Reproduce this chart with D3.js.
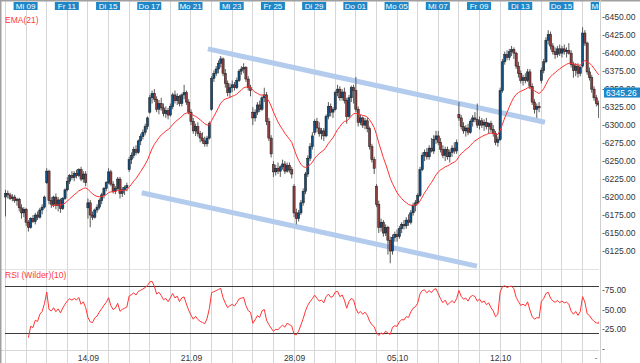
<!DOCTYPE html>
<html>
<head>
<meta charset="utf-8">
<script src="https://cdnjs.cloudflare.com/ajax/libs/d3/7.8.5/d3.min.js"></script>
<style>
body { margin: 0; background: #fff; }
svg { display: block; font-family: Arial, "Liberation Sans", sans-serif; }
</style>
</head>
<body>
<script>
//Width and height
var w = 640;
var h = 363;

// trading days shown on the x axis (9 hourly candles each)
var days = ["Di 08","Mi 09","Do 10","Fr 11","Mo 14","Di 15","Mi 16","Do 17","Fr 18","Mo 21",
            "Di 22","Mi 23","Do 24","Fr 25","Mo 28","Di 29","Mi 30","Do 01","Fr 02","Mo 05",
            "Di 06","Mi 07","Do 08","Fr 09","Mo 12","Di 13","Mi 14","Do 15","Fr 16","Mo 19"];
var weekDays = [4, 9, 14, 19, 24];
var weekLabels = ["14.09", "21.09", "28.09", "05.10", "12.10"];
var priceTicks = [6125, 6150, 6175, 6200, 6225, 6250, 6275, 6300, 6325, 6350, 6375, 6400, 6425, 6450];
var rsiTicks = [25, 50, 75];
var rsiBands = [20, 80];
var lastPrice = 6345.26;

// trend channel: [candle index, price]
var upperChannel = [[88.6, 6406], [235.8, 6304]];
var lowerChannel = [[59.7, 6206], [206.1, 6104]];

// [open, high, low, close]
var candles = [
  // Di 08
  [6200,6210,6173,6205],[6205,6209,6198,6203],[6203,6206,6196,6198],[6198,6204,6194,6200],[6200,6203,6192,6195],
  [6195,6199,6188,6197],[6197,6199,6180,6185],[6185,6190,6170,6178],[6178,6186,6172,6183],
  // Mi 09
  [6183,6185,6160,6165],[6165,6168,6152,6158],[6158,6172,6156,6170],[6170,6175,6164,6166],[6166,6178,6162,6175],
  [6175,6180,6168,6172],[6172,6185,6170,6182],[6182,6190,6176,6186],[6186,6202,6184,6200],
  // Do 10
  [6220,6240,6218,6236],[6236,6238,6190,6195],[6195,6200,6185,6190],[6190,6202,6186,6200],[6200,6205,6183,6188],
  [6188,6200,6180,6196],[6196,6198,6178,6184],[6184,6200,6182,6198],[6198,6212,6196,6210],
  // Fr 11
  [6210,6228,6208,6222],[6222,6232,6218,6230],[6230,6236,6224,6227],[6227,6236,6222,6233],[6233,6238,6226,6230],
  [6230,6240,6228,6238],[6238,6242,6222,6225],[6225,6236,6220,6232],[6232,6236,6215,6220],
  // Mo 14
  [6185,6198,6170,6192],[6192,6196,6158,6175],[6175,6180,6168,6172],[6172,6184,6170,6182],[6182,6190,6178,6186],
  [6186,6198,6183,6195],[6195,6206,6190,6203],[6203,6214,6198,6212],[6212,6222,6208,6220],
  // Di 15
  [6220,6240,6218,6235],[6235,6238,6215,6218],[6218,6222,6205,6208],[6208,6215,6204,6212],[6212,6228,6210,6225],
  [6225,6228,6198,6205],[6205,6214,6200,6210],[6210,6216,6203,6213],[6213,6220,6208,6216],
  // Mi 16
  [6238,6256,6235,6252],[6252,6262,6246,6258],[6258,6270,6254,6266],[6266,6272,6258,6262],[6262,6280,6260,6278],
  [6278,6288,6272,6284],[6284,6294,6280,6290],[6290,6302,6286,6298],[6298,6312,6294,6310],
  // Do 17
  [6318,6342,6316,6338],[6338,6348,6330,6344],[6344,6350,6332,6336],[6336,6340,6318,6322],[6322,6335,6315,6330],
  [6330,6338,6320,6324],[6324,6330,6312,6316],[6316,6326,6310,6320],[6320,6324,6308,6314],
  // Fr 18
  [6314,6330,6312,6326],[6326,6345,6322,6342],[6342,6348,6330,6334],[6334,6344,6328,6340],[6340,6342,6326,6330],
  [6330,6344,6326,6342],[6342,6356,6336,6345],[6345,6348,6328,6332],[6332,6336,6315,6318],
  // Mo 21
  [6318,6322,6300,6305],[6305,6310,6288,6292],[6292,6302,6285,6298],[6298,6304,6284,6288],[6288,6292,6276,6282],
  [6282,6290,6274,6278],[6278,6284,6270,6274],[6274,6285,6270,6282],[6282,6305,6280,6302],
  // Di 22
  [6322,6368,6320,6365],[6365,6376,6360,6372],[6372,6382,6368,6378],[6378,6390,6372,6386],[6386,6396,6380,6392],
  [6392,6394,6368,6372],[6372,6378,6352,6358],[6358,6362,6340,6345],[6345,6358,6338,6352],
  // Mi 23
  [6352,6362,6346,6356],[6356,6360,6348,6352],[6352,6366,6350,6362],[6362,6378,6360,6375],[6375,6382,6370,6378],
  [6378,6386,6372,6380],[6380,6382,6360,6364],[6364,6368,6348,6352],[6352,6356,6340,6348],
  // Do 24
  [6318,6325,6300,6310],[6310,6322,6305,6318],[6318,6332,6314,6328],[6328,6334,6318,6322],[6322,6340,6320,6338],
  [6338,6352,6332,6342],[6342,6346,6300,6305],[6305,6310,6278,6282],[6282,6286,6255,6260],
  // Fr 25
  [6245,6250,6228,6235],[6235,6245,6230,6240],[6240,6248,6232,6236],[6236,6244,6228,6242],[6242,6252,6238,6246],
  [6246,6250,6232,6236],[6236,6248,6234,6244],[6244,6248,6234,6238],[6238,6242,6226,6232],
  // Mo 28
  [6215,6218,6172,6178],[6178,6184,6162,6170],[6170,6182,6166,6178],[6178,6196,6175,6192],[6192,6212,6188,6208],
  [6208,6235,6204,6232],[6232,6258,6228,6254],[6254,6275,6250,6270],[6270,6290,6266,6285],
  // Di 29
  [6290,6308,6286,6305],[6305,6310,6290,6296],[6296,6304,6284,6288],[6288,6296,6280,6292],[6292,6296,6278,6285],
  [6285,6315,6283,6312],[6312,6332,6308,6326],[6326,6330,6312,6318],[6318,6325,6310,6322],
  // Mi 30
  [6322,6348,6320,6345],[6345,6356,6340,6350],[6350,6354,6334,6338],[6338,6350,6334,6346],[6346,6352,6330,6334],
  [6334,6338,6302,6312],[6312,6342,6310,6338],[6338,6355,6332,6352],[6352,6356,6330,6348],
  // Do 01
  [6348,6367,6318,6322],[6322,6326,6298,6304],[6304,6314,6300,6310],[6310,6312,6296,6300],[6300,6310,6294,6306],
  [6306,6310,6290,6295],[6295,6298,6266,6270],[6270,6274,6248,6252],[6252,6256,6232,6240],
  // Fr 02
  [6215,6218,6186,6190],[6190,6195,6150,6158],[6158,6170,6152,6165],[6165,6168,6145,6150],[6150,6162,6146,6158],
  [6158,6160,6120,6140],[6140,6145,6108,6125],[6125,6148,6120,6144],[6144,6152,6138,6148],
  // Mo 05
  [6148,6155,6138,6145],[6145,6160,6142,6156],[6156,6165,6150,6162],[6162,6168,6155,6160],[6160,6172,6156,6168],
  [6168,6176,6160,6165],[6165,6182,6162,6178],[6178,6192,6174,6188],[6188,6196,6180,6192],
  // Di 06
  [6192,6205,6190,6202],[6202,6242,6200,6238],[6238,6262,6236,6258],[6258,6266,6250,6262],[6262,6268,6252,6256],
  [6256,6272,6252,6268],[6268,6282,6262,6264],[6264,6286,6260,6280],[6280,6292,6274,6285],
  // Mi 07
  [6285,6292,6272,6276],[6276,6282,6262,6266],[6266,6272,6254,6258],[6258,6270,6250,6266],[6266,6270,6252,6256],
  [6256,6266,6248,6262],[6262,6272,6256,6268],[6268,6276,6260,6264],[6264,6280,6260,6276],
  // Do 08
  [6315,6332,6306,6310],[6310,6314,6294,6298],[6298,6304,6288,6292],[6292,6300,6284,6296],[6296,6302,6286,6290],
  [6290,6308,6288,6305],[6305,6314,6298,6310],[6310,6318,6304,6308],[6308,6330,6296,6300],
  // Fr 09
  [6300,6312,6294,6306],[6306,6310,6296,6300],[6300,6308,6292,6304],[6304,6310,6294,6298],[6298,6304,6288,6302],
  [6302,6306,6290,6294],[6294,6300,6284,6288],[6288,6292,6272,6276],[6276,6284,6270,6280],
  // Mo 12
  [6280,6352,6278,6348],[6348,6392,6345,6388],[6388,6402,6384,6398],[6398,6404,6390,6394],[6394,6406,6390,6402],
  [6402,6410,6396,6405],[6405,6408,6392,6400],[6400,6402,6378,6382],[6382,6388,6366,6372],
  // Di 13
  [6372,6376,6358,6362],[6362,6370,6355,6366],[6366,6372,6358,6362],[6362,6378,6360,6374],[6374,6378,6350,6354],
  [6354,6358,6328,6332],[6332,6336,6316,6322],[6322,6330,6310,6326],[6326,6332,6318,6324],
  // Mi 14
  [6362,6380,6358,6376],[6376,6392,6372,6388],[6388,6422,6386,6418],[6418,6432,6412,6426],[6426,6430,6405,6410],
  [6410,6414,6398,6402],[6402,6408,6392,6398],[6398,6410,6394,6406],[6406,6412,6396,6400],
  // Do 15
  [6400,6410,6394,6406],[6406,6412,6398,6402],[6402,6408,6394,6404],[6404,6414,6398,6400],[6400,6404,6380,6384],
  [6384,6388,6366,6376],[6376,6386,6368,6382],[6382,6386,6366,6372],[6372,6382,6368,6380],
  // Fr 16
  [6382,6436,6380,6428],[6428,6432,6410,6414],[6414,6416,6370,6374],[6374,6380,6362,6366],[6366,6370,6345,6350],
  [6350,6354,6334,6338],[6338,6342,6326,6330],[6330,6334,6310,6328],[6328,6350,6325,6345.26]
];

var perDay = 9;
var plotRight = 599;

var x = d3.scaleLinear().domain([0, 261]).range([5, 5 + 261 * 2.29]);
var y = d3.scaleLinear().domain([6100, 6460]).range([269, 10]);
var yr = d3.scaleLinear().domain([0, 100]).range([348.5, 270.5]);

// EMA(21) and Wilder RSI(10) from the closes
var closes = candles.map(function(d){ return d[3]; });
var ema = [];
var k = 2 / 22, sum = 0;
for (var i = 0; i < closes.length; i++) {
  if (i < 20) { sum += closes[i]; continue; }
  if (i === 20) { sum += closes[i]; ema.push([i, sum / 21]); continue; }
  ema.push([i, closes[i] * k + ema[ema.length - 1][1] * (1 - k)]);
}
var rsi = [], ag = 0, al = 0;
for (var i = 1; i < closes.length; i++) {
  var ch = closes[i] - closes[i - 1];
  var g = Math.max(ch, 0), l = Math.max(-ch, 0);
  if (i <= 10) {
    ag += g / 10; al += l / 10;
    if (i < 10) continue;
  } else {
    ag = (ag * 9 + g) / 10; al = (al * 9 + l) / 10;
  }
  rsi.push([i, al === 0 ? 100 : 100 - 100 / (1 + ag / al)]);
}

//Create SVG element
var svg = d3.select("body")
    .append("svg")
    .attr("width", w)
    .attr("height", h);

svg.append("defs").append("clipPath")
    .attr("id", "plot")
  .append("rect")
    .attr("x", 0).attr("y", 0)
    .attr("width", plotRight).attr("height", h);

var plot = svg.append("g").attr("clip-path", "url(#plot)");

// day grid
plot.selectAll(".grid")
    .data(d3.range(days.length))
    .enter()
    .append("line")
    .attr("class", "grid")
    .attr("x1", function(d){ return Math.round(x(d * perDay)) + 0.5; })
    .attr("x2", function(d){ return Math.round(x(d * perDay)) + 0.5; })
    .attr("y1", 0)
    .attr("y2", h)
    .attr("stroke", "#d6d6d6")
    .attr("stroke-width", 1);

// panel lines
plot.append("line")
    .attr("x1", 0).attr("x2", plotRight)
    .attr("y1", 269.5).attr("y2", 269.5)
    .attr("stroke", "#e2e2e2");
plot.append("line")
    .attr("x1", 0).attr("x2", plotRight)
    .attr("y1", 350.5).attr("y2", 350.5)
    .attr("stroke", "#d6d6d6");

// channel
var chLine = d3.line()
    .x(function(d){ return x(d[0]); })
    .y(function(d){ return y(d[1]); });
plot.selectAll(".channel")
    .data([upperChannel, lowerChannel])
    .enter()
    .append("path")
    .attr("class", "channel")
    .attr("d", chLine)
    .attr("stroke", "#b3cbec")
    .attr("stroke-width", 5)
    .attr("fill", "none");

// candles
var cg = plot.selectAll(".candle")
    .data(candles)
    .enter()
    .append("g")
    .attr("class", "candle");

cg.append("line")
    .attr("x1", function(d, i){ return x(i) + 0.5; })
    .attr("x2", function(d, i){ return x(i) + 0.5; })
    .attr("y1", function(d){ return y(d[1]); })
    .attr("y2", function(d){ return y(d[2]); })
    .attr("stroke", "#5a5a5a")
    .attr("stroke-width", 1);

cg.append("rect")
    .attr("x", function(d, i){ return x(i) - 0.6; })
    .attr("width", 2.2)
    .attr("y", function(d){ return y(Math.max(d[0], d[3])); })
    .attr("height", function(d){ return Math.max(1, Math.abs(y(d[0]) - y(d[3]))); })
    .attr("fill", function(d){ return d[3] >= d[0] ? "#0e4f82" : "#8f3d3d"; })
    .attr("stroke", "#1b1b1b")
    .attr("stroke-width", 0.5);

// EMA
var lineGen = d3.line()
    .x(function(d){ return x(d[0]) + 0.5; })
    .y(function(d){ return y(d[1]); });
plot.append("path")
    .datum(ema)
    .attr("d", lineGen)
    .attr("fill", "none")
    .attr("stroke", "#ff3030")
    .attr("stroke-width", 1);

// RSI bands and line
plot.selectAll(".band")
    .data(rsiBands)
    .enter()
    .append("line")
    .attr("class", "band")
    .attr("x1", 5).attr("x2", plotRight + 3)
    .attr("y1", function(d){ return Math.round(yr(d)) + 0.5; })
    .attr("y2", function(d){ return Math.round(yr(d)) + 0.5; })
    .attr("stroke", "#3c3c3c")
    .attr("stroke-width", 1);

plot.append("path")
    .datum(rsi)
    .attr("d", d3.line()
        .x(function(d){ return x(d[0]) + 0.5; })
        .y(function(d){ return yr(d[1]); }))
    .attr("fill", "none")
    .attr("stroke", "#ff3535")
    .attr("stroke-width", 1);

// top date labels
var lab = plot.selectAll(".daylab")
    .data(d3.range(1, days.length, 2))
    .enter()
    .append("g")
    .attr("class", "daylab")
    .attr("transform", function(d){ return "translate(" + x(d * perDay) + ",0)"; });
lab.append("rect")
    .attr("x", -12).attr("y", 2)
    .attr("width", 24).attr("height", 8)
    .attr("fill", "#1d87c7");
lab.append("text")
    .attr("y", 9)
    .attr("text-anchor", "middle")
    .attr("font-size", "8px")
    .attr("fill", "#fff")
    .text(function(d){ return days[d]; });

// bottom week labels
plot.selectAll(".weeklab")
    .data(weekDays)
    .enter()
    .append("text")
    .attr("class", "weeklab")
    .attr("x", function(d){ return x(d * perDay) + 1; })
    .attr("y", 361)
    .attr("text-anchor", "middle")
    .attr("font-size", "8.5px")
    .attr("fill", "#333")
    .text(function(d, i){ return weekLabels[i]; });
svg.append("text")
    .attr("x", 596).attr("y", 360)
    .attr("text-anchor", "middle")
    .attr("font-size", "8px")
    .attr("fill", "#333")
    .text("-");

// indicator titles
svg.append("text")
    .attr("x", 5).attr("y", 23)
    .attr("font-size", "8.5px")
    .attr("fill", "#ff3a3a")
    .text("EMA(21)");
svg.append("text")
    .attr("x", 5).attr("y", 278)
    .attr("font-size", "8.5px")
    .attr("fill", "#ff3a3a")
    .text("RSI (Wilder)(10)");

// borders
svg.append("line")
    .attr("x1", 0).attr("x2", w).attr("y1", 0.75).attr("y2", 0.75)
    .attr("stroke", "#a0a0a0").attr("stroke-width", 1.5);
svg.append("line")
    .attr("x1", 0.75).attr("x2", 0.75).attr("y1", 0).attr("y2", h)
    .attr("stroke", "#a0a0a0").attr("stroke-width", 1.5);
svg.append("line")
    .attr("x1", 600.5).attr("x2", 600.5).attr("y1", 0).attr("y2", h)
    .attr("stroke", "#cfcfcf");

// right axes
var axisG = svg.append("g");
axisG.selectAll(".ptick")
    .data(priceTicks)
    .enter()
    .append("text")
    .attr("class", "ptick")
    .attr("x", 602)
    .attr("y", function(d){ return y(d) + 3; })
    .attr("font-size", "8.5px")
    .attr("fill", "#333")
    .text(function(d){ return "-" + d.toFixed(2); });

axisG.selectAll(".rtick")
    .data(rsiTicks)
    .enter()
    .append("text")
    .attr("class", "rtick")
    .attr("x", 602)
    .attr("y", function(d){ return yr(d) + 3; })
    .attr("font-size", "8.5px")
    .attr("fill", "#333")
    .text(function(d){ return "-" + d.toFixed(2); });
axisG.append("text")
    .attr("x", 602).attr("y", yr(0) + 3)
    .attr("font-size", "8.5px")
    .attr("fill", "#333")
    .text("-");

// last price marker
axisG.append("rect")
    .attr("x", 604).attr("y", y(lastPrice) - 5)
    .attr("width", 36).attr("height", 10)
    .attr("fill", "#1d87c7");
axisG.append("text")
    .attr("x", 606).attr("y", y(lastPrice) + 3)
    .attr("font-size", "8.5px")
    .attr("fill", "#fff")
    .text(lastPrice.toFixed(2));
</script>
</body>
</html>
